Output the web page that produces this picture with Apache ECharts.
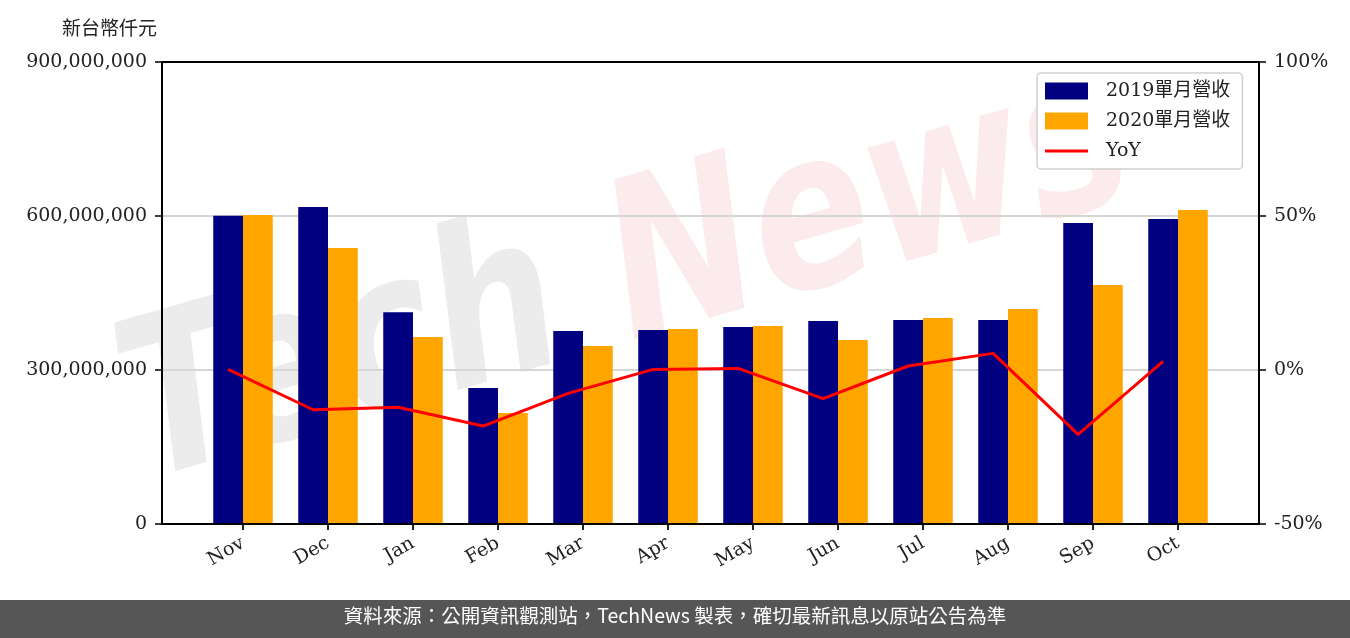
<!DOCTYPE html>
<html>
<head>
<meta charset="utf-8">
<script src="https://cdn.jsdelivr.net/npm/echarts@6/dist/echarts.min.js"></script>
<style>
  html, body { margin: 0; padding: 0; background: #fff; }
  #chart { width: 1350px; height: 638px; }
</style>
</head>
<body>
<div id="chart"></div>
<script>
// 月份
const months = ['Nov', 'Dec', 'Jan', 'Feb', 'Mar', 'Apr', 'May', 'Jun', 'Jul', 'Aug', 'Sep', 'Oct']
// 單月營收 (新台幣仟元)
const rev2019 = [600600000, 617500000, 412400000, 265000000, 376000000, 378000000,
  383800000, 395500000, 397400000, 397400000, 586400000, 594200000]
const rev2020 = [602000000, 537700000, 364300000, 216200000, 346800000, 379900000,
  385700000, 358400000, 401300000, 418800000, 465600000, 611700000]
// YoY (%)
const yoy = [0.2, -12.9, -12.1, -18.2, -7.6, 0.2, 0.5, -9.3, 1.3, 5.4, -20.9, 2.8]

const serif = "'DejaVu Serif', 'Noto Sans CJK TC', serif"

const chart = echarts.init(document.getElementById('chart'))

// 外框線
const frameLine = {show: true, onZero: false, lineStyle: {color: '#000', width: 2}}

const option = {
  animation: false,
  backgroundColor: '#fff',
  title: {
    text: '新台幣仟元',
    left: 57,
    top: 16,
    textStyle: {fontFamily: serif, fontSize: 19, fontWeight: 'normal', color: '#222'}
  },
  legend: {
    orient: 'vertical',
    left: 1037,
    top: 73,
    padding: [8, 12, 8, 8],
    itemGap: 10,
    itemWidth: 43,
    itemHeight: 17,
    backgroundColor: '#fff',
    borderColor: '#d0d0d0',
    borderWidth: 1.5,
    borderRadius: 4,
    textStyle: {fontFamily: serif, fontSize: 19, color: '#222', padding: [0, 0, 0, 13], lineHeight: 20},
    data: [
      {name: '2019單月營收', icon: 'rect'},
      {name: '2020單月營收', icon: 'rect'},
      {name: 'YoY', icon: 'path://M0,0L0.01,0L0.01,0.01ZM0,7L43,7L43,10L0,10ZM42.99,17L43,17L43,16.99Z'}
    ]
  },
  grid: [
    // 外框 + 左右軸
    {left: 162, right: 91, top: 62, bottom: 114},
    // 長條用
    {left: 200.5, right: 129.5, top: 62, bottom: 114},
    // 折線用 (對齊 2019 長條中心)
    {left: 185.6, right: 144.4, top: 62, bottom: 114}
  ],
  xAxis: [
    {gridIndex: 0, type: 'value', min: 0, max: 1, position: 'bottom', z: 4,
      axisLine: frameLine, axisTick: {show: false}, axisLabel: {show: false}, splitLine: {show: false}},
    {
      gridIndex: 1,
      type: 'category',
      data: months,
      axisLine: {show: false},
      axisTick: {show: true, alignWithLabel: true, length: 6, lineStyle: {color: '#222', width: 2}},
      axisLabel: {rotate: 30, margin: 18, fontFamily: serif, fontSize: 19, color: '#222'}
    },
    {gridIndex: 2, type: 'category', data: months, show: false},
    {gridIndex: 0, type: 'value', min: 0, max: 1, position: 'top', z: 4,
      axisLine: frameLine, axisTick: {show: false}, axisLabel: {show: false}, splitLine: {show: false}}
  ],
  yAxis: [
    {
      gridIndex: 0,
      type: 'value',
      position: 'left',
      min: 0,
      max: 900000000,
      interval: 300000000,
      z: 2,
      axisLine: frameLine,
      axisTick: {show: true, length: 7, lineStyle: {color: '#000', width: 1.5}},
      axisLabel: {
        margin: 15,
        fontFamily: serif,
        fontSize: 19,
        color: '#222',
        formatter: (v) => v.toLocaleString('en-US')
      },
      splitLine: {show: true, lineStyle: {color: '#d6d6d6', width: 2}}
    },
    {
      gridIndex: 0,
      type: 'value',
      position: 'right',
      min: -50,
      max: 100,
      interval: 50,
      z: 4,
      axisLine: frameLine,
      axisTick: {show: true, length: 7, lineStyle: {color: '#000', width: 1.5}},
      axisLabel: {margin: 15, fontFamily: serif, fontSize: 19, color: '#222', formatter: '{value}%'},
      splitLine: {show: false}
    },
    {gridIndex: 1, type: 'value', min: 0, max: 900000000, show: false, splitLine: {show: false}},
    {gridIndex: 2, type: 'value', min: -50, max: 100, show: false, splitLine: {show: false}}
  ],
  series: [
    {
      name: '2019單月營收',
      type: 'bar',
      xAxisIndex: 1,
      yAxisIndex: 2,
      barWidth: 29.75,
      barGap: '0%',
      itemStyle: {color: '#000080'},
      data: rev2019
    },
    {
      name: '2020單月營收',
      type: 'bar',
      xAxisIndex: 1,
      yAxisIndex: 2,
      barWidth: 29.75,
      barGap: '0%',
      itemStyle: {color: '#FFA500'},
      data: rev2020
    },
    {
      name: 'YoY',
      type: 'line',
      xAxisIndex: 2,
      yAxisIndex: 3,
      symbol: 'none',
      color: '#FF0000',
      lineStyle: {color: '#FF0000', width: 3},
      z: 5,
      data: yoy
    }
  ],
  graphic: [
    // 浮水印
    {
      type: 'group',
      x: 160,
      y: 530,
      rotation: 16 * Math.PI / 180,
      scaleY: 1.25,
      z: 50,
      silent: true,
      children: [
        {
          type: 'text',
          x: 0,
          y: 0,
          style: {
            text: 'Tech',
            font: "bold italic 175px 'DejaVu Sans'",
            fill: 'rgba(120,120,120,0.14)',
            verticalAlign: 'bottom'
          }
        },
        {
          type: 'text',
          x: 505,
          y: 0,
          style: {
            text: 'News',
            font: "bold italic 175px 'DejaVu Sans'",
            fill: 'rgba(215,60,80,0.1)',
            verticalAlign: 'bottom'
          }
        }
      ]
    },
    // 頁尾
    {
      type: 'rect',
      left: 0,
      top: 600,
      shape: {width: 1350, height: 38},
      style: {fill: '#565656'},
      z: 60
    },
    {
      type: 'text',
      left: 'center',
      top: 606,
      style: {
        text: '資料來源：公開資訊觀測站，TechNews 製表，確切最新訊息以原站公告為準',
        font: "19.5px 'Noto Sans CJK TC'",
        fill: '#fff'
      },
      z: 61
    }
  ]
}

chart.setOption(option)
</script>
</body>
</html>
